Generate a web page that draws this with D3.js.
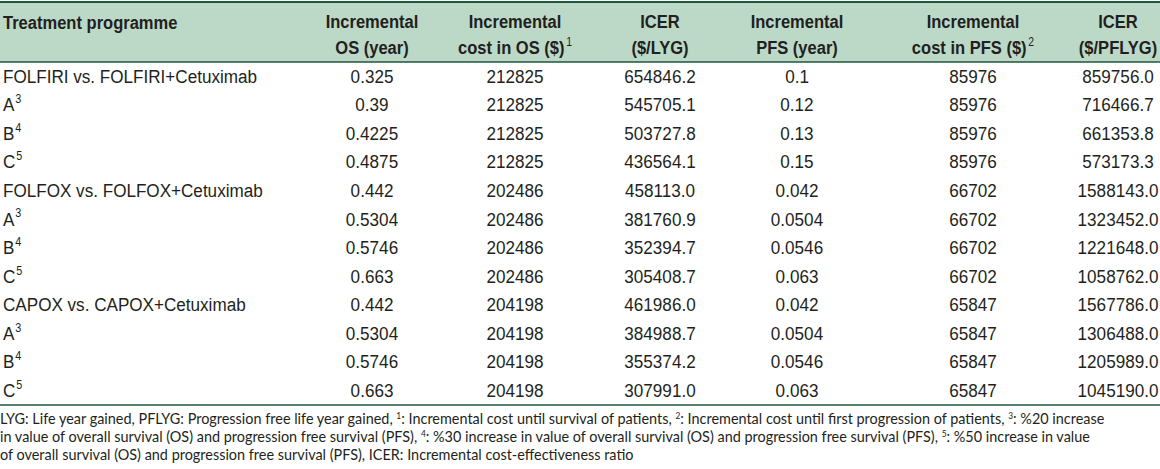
<!DOCTYPE html>
<html>
<head>
<meta charset="utf-8">
<script src="https://cdn.jsdelivr.net/npm/d3@7"></script>
<style>
  html, body { margin: 0; padding: 0; background: #fff; }
  svg { display: block; }
  .hdr { font-family: "Liberation Sans", Arial, sans-serif; font-weight: bold; fill: #231f20; }
  .cell { font-family: "Liberation Sans", Arial, sans-serif; fill: #231f20; }
  .foot { font-family: Lato, "Open Sans", sans-serif; fill: #231f20; }
</style>
</head>
<body>
<svg id="chart" width="1160" height="469"></svg>
<script>
// ---- data ----
const programmes = ["FOLFIRI vs. FOLFIRI+Cetuximab", "A", "B", "C",
                    "FOLFOX vs. FOLFOX+Cetuximab", "A", "B", "C",
                    "CAPOX vs. CAPOX+Cetuximab", "A", "B", "C"];
const programmeSup = ["", "3", "4", "5", "", "3", "4", "5", "", "3", "4", "5"];
const incrementalOS = ["0.325", "0.39", "0.4225", "0.4875", "0.442", "0.5304", "0.5746", "0.663", "0.442", "0.5304", "0.5746", "0.663"];
const costOS = [212825, 212825, 212825, 212825, 202486, 202486, 202486, 202486, 204198, 204198, 204198, 204198];
const icerLYG = [654846.2, 545705.1, 503727.8, 436564.1, 458113.0, 381760.9, 352394.7, 305408.7, 461986.0, 384988.7, 355374.2, 307991.0];
const incrementalPFS = ["0.1", "0.12", "0.13", "0.15", "0.042", "0.0504", "0.0546", "0.063", "0.042", "0.0504", "0.0546", "0.063"];
const costPFS = [85976, 85976, 85976, 85976, 66702, 66702, 66702, 66702, 65847, 65847, 65847, 65847];
const icerPFLYG = [859756.0, 716466.7, 661353.8, 573173.3, 1588143.0, 1323452.0, 1221648.0, 1058762.0, 1567786.0, 1306488.0, 1205989.0, 1045190.0];

const headers = [
  {l1: "Incremental", l2: "OS (year)", sup: ""},
  {l1: "Incremental", l2: "cost in OS ($)", sup: "1"},
  {l1: "ICER", l2: "($/LYG)", sup: ""},
  {l1: "Incremental", l2: "PFS (year)", sup: ""},
  {l1: "Incremental", l2: "cost in PFS ($)", sup: "2"},
  {l1: "ICER", l2: "($/PFLYG)", sup: ""}
];
const footLines = [
  [["LYG: Life year gained, PFLYG: Progression free life year gained, ", ""], ["1", "s"], [": Incremental cost until survival of patients, ", ""], ["2", "s"], [": Incremental cost until first progression of patients, ", ""], ["3", "s"], [": %20 increase", ""]],
  [["in value of overall survival (OS) and progression free survival (PFS), ", ""], ["4", "s"], [": %30 increase in value of overall survival (OS) and progression free survival (PFS), ", ""], ["5", "s"], [": %50 increase in value", ""]],
  [["of overall survival (OS) and progression free survival (PFS), ICER: Incremental cost-effectiveness ratio", ""]]
];

// ---- layout ----
const W = 1160, H = 469;
const svg = d3.select("#chart");
const green = "#bcd9c7", dark = "#21573c";
const headTop = 2, headBottom = 62, tableBottom = 405;
const colKeys = ["os", "costOS", "icerOS", "pfs", "costPFS", "icerPFS"];
const colX = d3.scaleOrdinal().domain(colKeys).range([372, 515, 660, 797, 973, 1118]);
const rowY = d3.scaleBand().domain(d3.range(programmes.length)).range([headBottom, tableBottom]);
const fmt1 = d3.format(".1f"), fmt0 = d3.format("d");
const hs = 0.87, bs = 0.9;   // horizontal condensing of header / body text
const fs = 19;

// header background
svg.append("rect").attr("x", 0).attr("y", headTop).attr("width", W).attr("height", headBottom - headTop).attr("fill", green);
svg.append("line").attr("x1", 0).attr("x2", W).attr("y1", headTop).attr("y2", headTop).attr("stroke", dark).attr("stroke-width", 2);
svg.append("line").attr("x1", 0).attr("x2", W).attr("y1", headBottom).attr("y2", headBottom).attr("stroke", dark).attr("stroke-width", 1.5);
svg.append("line").attr("x1", 0).attr("x2", W).attr("y1", tableBottom).attr("y2", tableBottom).attr("stroke", dark).attr("stroke-width", 1.5);

function place(sel, x, y, s) {
  return sel.attr("transform", (d, i) => `translate(${typeof x === "function" ? x(d, i) : x},${typeof y === "function" ? y(d, i) : y}) scale(${s},1)`);
}

place(svg.append("text").attr("class", "hdr").attr("dominant-baseline", "central")
  .style("font-size", fs + "px").text("Treatment programme"), 3, 23, hs);

const hg = svg.selectAll("g.h").data(headers).join("g").attr("class", "h");
place(hg.append("text").attr("class", "hdr").attr("text-anchor", "middle").attr("dominant-baseline", "central")
  .style("font-size", fs + "px").text(d => d.l1), (d, i) => colX(colKeys[i]), 22, hs);
const h2 = place(hg.append("text").attr("class", "hdr").attr("text-anchor", "middle").attr("dominant-baseline", "central")
  .style("font-size", fs + "px"), (d, i) => colX(colKeys[i]), 48, hs);
h2.append("tspan").text(d => d.l2);
h2.filter(d => d.sup).append("tspan").attr("dx", 2).attr("dy", -6).style("font-size", "12px").style("font-weight", "normal").text(d => d.sup);

// rows
const rows = svg.selectAll("g.row").data(programmes).join("g").attr("class", "row")
  .attr("transform", (d, i) => `translate(0,${rowY(i) + rowY.bandwidth() / 2})`);
const first = place(rows.append("text").attr("class", "cell").attr("dominant-baseline", "central").style("font-size", fs + "px"), 3, 0, bs);
first.append("tspan").text(d => d);
first.append("tspan").attr("dx", 1).attr("dy", -6).style("font-size", "12px").text((d, i) => programmeSup[i]);

const colVals = [
  i => incrementalOS[i],
  i => fmt0(costOS[i]),
  i => fmt1(icerLYG[i]),
  i => incrementalPFS[i],
  i => fmt0(costPFS[i]),
  i => fmt1(icerPFLYG[i])
];
colKeys.forEach((k, c) => {
  place(rows.append("text").attr("class", "cell").attr("text-anchor", "middle")
    .attr("dominant-baseline", "central").style("font-size", fs + "px")
    .text((d, i) => colVals[c](i)), colX(k), 0, bs);
});

// footnote
const footY = [424, 442, 460];
const ft = svg.selectAll("text.foot").data(footLines).join("text").attr("class", "foot")
  .style("font-size", "15.5px");
ft.selectAll("tspan").data(d => d).join("tspan")
  .attr("class", d => d[1] ? "sup" : null)
  .style("font-size", d => d[1] ? "9px" : null)
  .attr("baseline-shift", d => d[1] ? "super" : null)
  .text(d => d[0]);
// condense footnote so that the first line spans the reference width
const fscale = 1105 / ft.nodes()[0].getComputedTextLength();
place(ft, 0, (d, i) => footY[i], fscale);
</script>
</body>
</html>
